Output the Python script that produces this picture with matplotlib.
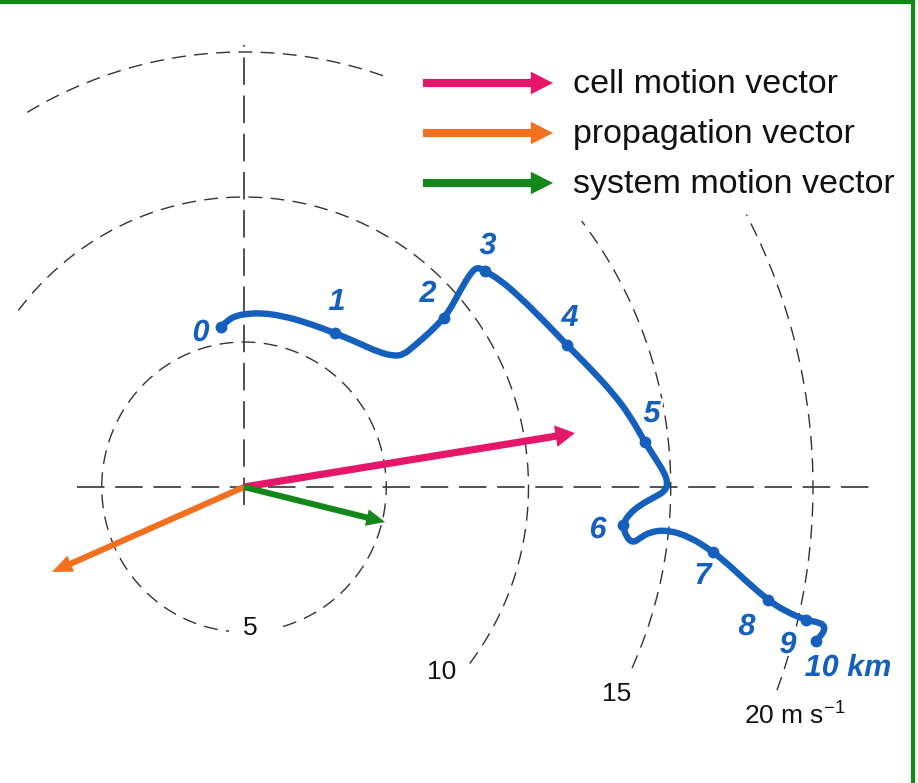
import numpy as np
import matplotlib
matplotlib.use("Agg")
import matplotlib.pyplot as plt
import matplotlib.patheffects as pe
from matplotlib.lines import Line2D
from matplotlib.path import Path
from matplotlib.patches import PathPatch

plt.rcParams.update({
    "font.family": ["Liberation Sans", "DejaVu Sans"],
    "mathtext.fontset": "custom",
    "mathtext.rm": "Liberation Sans",
    "mathtext.it": "Liberation Sans:italic",
})

# --- datos (m/s) --------------------------------------------------------
# hodografa: puntos (u, v) a lo largo de la curva
HODO_U = [-0.81, -0.56, -0.28, 0.07, 0.63, 1.34, 2.14, 3.20, 4.01, 4.71,
          5.24, 5.59, 5.98, 6.54, 7.03, 7.31, 7.63, 7.94, 8.19, 8.47,
          9.00, 9.70, 10.58, 11.35, 12.16, 12.97, 13.57, 14.09, 14.45, 14.76,
          14.90, 14.80, 14.45, 13.92, 13.50, 13.32, 13.43, 13.67, 13.92, 14.27,
          14.87, 15.68, 16.49, 17.01, 17.61, 18.42, 19.02, 19.75, 20.18, 20.42,
          20.35, 20.10]
HODO_V = [5.52, 5.76, 5.90, 5.97, 6.00, 5.90, 5.69, 5.31, 4.97, 4.66,
          4.52, 4.55, 4.86, 5.34, 5.83, 6.24, 6.83, 7.34, 7.59, 7.45,
          7.14, 6.55, 5.69, 4.90, 4.10, 3.24, 2.45, 1.55, 1.00, 0.52,
          0.14, -0.14, -0.34, -0.62, -0.97, -1.31, -1.72, -1.93, -1.76, -1.55,
          -1.48, -1.72, -2.24, -2.66, -3.21, -3.90, -4.28, -4.59, -4.66, -4.79,
          -5.07, -5.31]
# indices de los niveles 0..10 km dentro de la curva
LEVEL_IDX = [0, 7, 14, 19, 23, 27, 35, 42, 45, 47, 51]
LEVEL_LABELS = ["0", "1", "2", "3", "4", "5", "6", "7", "8", "9", "10 km"]

RINGS = [5, 10, 15, 20]
RING_LABELS = ["5", "10", "15", "20 m s$^{\u22121}$"]

VEC_NAMES = ["cell motion vector", "propagation vector", "system motion vector"]
VEC_U = [11.63, -6.75, 4.96]
VEC_V = [1.86, -2.93, -1.21]
VEC_COLORS = ["#E6176B", "#F37021", "#13871A"]

# --- geometria de la imagen (pixeles) -----------------------------------
W, H = 918, 783
X0, Y0 = 244, 487        # origen de la hodografa
SX, SY = 28.45, 29.0     # px por m/s


def px(x, y):
    return (x - X0) / SX, (Y0 - y) / SY


fig = plt.figure(figsize=(W / 100, H / 100), dpi=100)
ax = fig.add_axes([0, 0, 1, 1])
ax.set_xlim(-X0 / SX, (W - X0) / SX)
ax.set_ylim(-(H - Y0) / SY, Y0 / SY)
ax.axis("off")

# ejes cartesianos discontinuos
ax.plot([px(77, 0)[0], px(875, 0)[0]], [0, 0], color="#222", lw=1.1,
        dashes=(18, 7))
ax.plot([0, 0], [px(0, 505)[1], px(0, 45)[1]], color="#222", lw=1.1,
        dashes=(18, 7))

# circulos de velocidad (solo los arcos visibles)
ARC_SPANS = {5: [(-74, 264)], 10: [(-37.5, 142.5)],
             15: [(71, 120.6), (-24.6, 37.7)], 20: [(-20.5, 28)]}
for r in RINGS:
    for a0, a1 in ARC_SPANS[r]:
        th = np.radians(np.linspace(a0, a1, 300))
        ax.plot(r * np.cos(th), r * np.sin(th), color="#333", lw=1.0,
                dashes=(10, 6))

ring_pos = [(250, 628), (442, 672), (617, 694), (795, 716)]
for lab, (x, y) in zip(RING_LABELS, ring_pos):
    tx, ty = px(x, y)
    ax.text(tx, ty, lab, fontsize=19, color="#111", ha="center", va="center")

# vectores
heads = [(0.75, 0.68), (0.6, 0.72), (0.58, 0.66)]
shafts = [0.25, 0.21, 0.21]
for u, v, c, (hw, hl), w in zip(VEC_U, VEC_V, VEC_COLORS, heads, shafts):
    ax.arrow(0, 0, u, v, width=w, head_width=hw, head_length=hl,
             length_includes_head=True, color=c, lw=0, zorder=3)

# hodografa: curva suave (bezier cuadratica por puntos medios)
BLUE = "#1560BD"
pts = np.column_stack([HODO_U, HODO_V])
verts = [pts[0]]
codes = [Path.MOVETO]
for k in range(1, len(pts) - 1):
    mid = (pts[k] + pts[k + 1]) / 2
    if k == len(pts) - 2:
        mid = pts[k + 1]
    verts += [pts[k], mid]
    codes += [Path.CURVE3, Path.CURVE3]
ax.add_patch(PathPatch(Path(verts, codes), fill=False, edgecolor=BLUE,
                       lw=4.6, capstyle="round", joinstyle="round", zorder=4))
ax.plot([HODO_U[i] for i in LEVEL_IDX], [HODO_V[i] for i in LEVEL_IDX],
        "o", color=BLUE, ms=7.5, zorder=5)

lab_pos = [(201, 333), (337, 302), (428, 294), (488, 246), (570, 318),
           (652, 414), (598, 530), (703, 576), (747, 627), (788, 645),
           (848, 668)]
halo = [pe.withStroke(linewidth=4, foreground="white")]
for lab, (x, y) in zip(LEVEL_LABELS, lab_pos):
    tx, ty = px(x, y)
    ax.text(tx, ty, lab, fontsize=22, color=BLUE, fontweight="bold",
            fontstyle="italic", ha="center", va="center", zorder=6,
            path_effects=halo)

# leyenda
for i, (name, c) in enumerate(zip(VEC_NAMES, VEC_COLORS)):
    y = 83 + 50 * i
    x1, yy = px(423, y)
    x2, _ = px(553, y)
    ax.arrow(x1, yy, x2 - x1, 0, width=0.28, head_width=0.78,
             head_length=0.78, length_includes_head=True, color=c, lw=0)
    tx, ty = px(573, y + 10)
    ax.text(tx, ty, name, fontsize=24.5, color="#111", ha="left",
            va="baseline")

# marco verde
g = "#138A13"
fig.add_artist(Line2D([0, 913 / W], [1 - 2 / H, 1 - 2 / H], color=g, lw=3,
                      transform=fig.transFigure))
fig.add_artist(Line2D([913 / W, 913 / W], [0, 1 - 2 / H], color=g, lw=3,
                      transform=fig.transFigure))

fig.savefig("out.png", dpi=100)
